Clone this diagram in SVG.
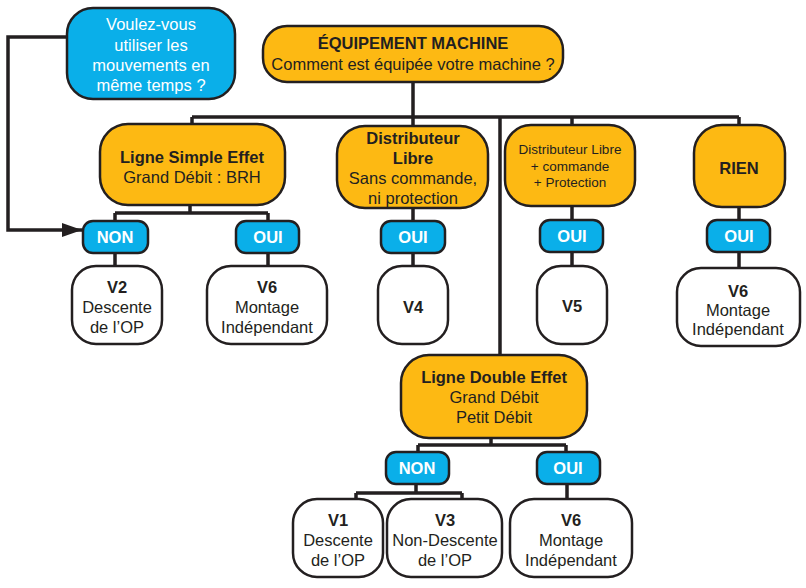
<svg xmlns="http://www.w3.org/2000/svg" width="806" height="588" viewBox="0 0 806 588">
<defs>
<style>
.or{fill:#fdb913;stroke:#231f20;stroke-width:2.5}
.bl{fill:#0aafe9;stroke:#231f20;stroke-width:2.5}
.wh{fill:#ffffff;stroke:#231f20;stroke-width:2.5}
.ln{fill:none;stroke:#231f20;stroke-width:3.5}
text{font-family:"Liberation Sans",Arial,sans-serif;font-size:16.5px;fill:#231f20;text-anchor:middle}
.b{font-weight:bold}
.w{fill:#ffffff;font-weight:bold}
.qw{fill:#ffffff}
.s{font-size:13.5px}
</style>
<marker id="arr" markerWidth="20" markerHeight="14" refX="20" refY="7" orient="auto" markerUnits="userSpaceOnUse" viewBox="0 0 20 14">
<path d="M0,0 L20,7 L0,14 z" fill="#231f20"/>
</marker>
</defs>
<rect width="806" height="588" fill="#ffffff"/>
<g id="connectors">
<path class="ln" d="M67,37 H8 V230 H82" marker-end="url(#arr)"/>
<path class="ln" d="M413,82 V117 M192,117 H739 M192,117 V125 M413,117 V126 M572,117 V125 M739,117 V125 M500,117 V355"/>
<path class="ln" d="M190,205 V213 M115,213 H268 M115,213 V221 M268,213 V221 M115,253 V266 M268,253 V266"/>
<path class="ln" d="M413,208 V221 M413,253 V266"/>
<path class="ln" d="M572,206 V220 M572,252 V266"/>
<path class="ln" d="M739,207 V220 M739,252 V268"/>
<path class="ln" d="M491,438 V445 M418,445 H566 M418,445 V452 M566,445 V452"/>
<path class="ln" d="M416,484 V493 M356,493 H462 M356,493 V499 M462,493 V499 M567,484 V499"/>
</g>
<g id="question">
<rect class="bl" x="67" y="8" width="168" height="91" rx="26"/>
<text class="qw" x="151" y="30">Voulez-vous</text>
<text class="qw" x="151" y="51">utiliser les</text>
<text class="qw" x="151" y="71">mouvements en</text>
<text class="qw" x="151" y="91">même temps ?</text>
</g>
<g id="equipement">
<rect class="or" x="263" y="26" width="300" height="56" rx="24"/>
<text class="b" x="413" y="49">ÉQUIPEMENT MACHINE</text>
<text x="413" y="70">Comment est équipée votre machine ?</text>
</g>
<g id="simple-effet">
<rect class="or" x="100" y="124" width="185" height="81" rx="28"/>
<text class="b" x="192" y="163">Ligne Simple Effet</text>
<text x="192" y="183">Grand Débit : BRH</text>
</g>
<g id="distributeur-libre">
<rect class="or" x="337" y="126" width="151" height="82" rx="28"/>
<text class="b" x="413" y="144">Distributeur</text>
<text class="b" x="413" y="164">Libre</text>
<text x="413" y="184">Sans commande,</text>
<text x="413" y="204">ni protection</text>
</g>
<g id="distributeur-commande">
<rect class="or" x="505" y="125" width="130" height="81" rx="26"/>
<text class="s" x="570" y="154">Distributeur Libre</text>
<text class="s" x="570" y="171">+ commande</text>
<text class="s" x="570" y="187">+ Protection</text>
</g>
<g id="rien">
<rect class="or" x="694" y="125" width="91" height="82" rx="28"/>
<text class="b" x="739" y="174">RIEN</text>
</g>
<g id="non-1">
<rect class="bl" x="83" y="221" width="65" height="32" rx="10"/>
<text class="w" x="115" y="243">NON</text>
</g>
<g id="oui-1">
<rect class="bl" x="236" y="221" width="63" height="32" rx="10"/>
<text class="w" x="268" y="243">OUI</text>
</g>
<g id="oui-2">
<rect class="bl" x="381" y="221" width="64" height="32" rx="10"/>
<text class="w" x="413" y="243">OUI</text>
</g>
<g id="oui-3">
<rect class="bl" x="540" y="220" width="63" height="32" rx="10"/>
<text class="w" x="572" y="242">OUI</text>
</g>
<g id="oui-4">
<rect class="bl" x="707" y="220" width="63" height="32" rx="10"/>
<text class="w" x="739" y="242">OUI</text>
</g>
<g id="v2">
<rect class="wh" x="72" y="266" width="90" height="78" rx="24"/>
<text class="b" x="117" y="293">V2</text>
<text x="117" y="313">Descente</text>
<text x="117" y="333">de l’OP</text>
</g>
<g id="v6-a">
<rect class="wh" x="207" y="266" width="120" height="78" rx="24"/>
<text class="b" x="267" y="293">V6</text>
<text x="267" y="313">Montage</text>
<text x="267" y="333">Indépendant</text>
</g>
<g id="v4">
<rect class="wh" x="378" y="266" width="70" height="78" rx="24"/>
<text class="b" x="413" y="313">V4</text>
</g>
<g id="v5">
<rect class="wh" x="537" y="266" width="70" height="78" rx="24"/>
<text class="b" x="572" y="312">V5</text>
</g>
<g id="v6-b">
<rect class="wh" x="677" y="268" width="123" height="78" rx="24"/>
<text class="b" x="738" y="297">V6</text>
<text x="738" y="316">Montage</text>
<text x="738" y="335">Indépendant</text>
</g>
<g id="double-effet">
<rect class="or" x="401" y="355" width="186" height="83" rx="28"/>
<text class="b" x="494" y="383">Ligne Double Effet</text>
<text x="494" y="403">Grand Débit</text>
<text x="494" y="423">Petit Débit</text>
</g>
<g id="non-2">
<rect class="bl" x="386" y="452" width="63" height="32" rx="10"/>
<text class="w" x="417" y="474">NON</text>
</g>
<g id="oui-5">
<rect class="bl" x="537" y="452" width="63" height="32" rx="10"/>
<text class="w" x="568" y="474">OUI</text>
</g>
<g id="v1">
<rect class="wh" x="293" y="499" width="90" height="78" rx="24"/>
<text class="b" x="338" y="526">V1</text>
<text x="338" y="546">Descente</text>
<text x="338" y="566">de l’OP</text>
</g>
<g id="v3">
<rect class="wh" x="387" y="499" width="115" height="78" rx="24"/>
<text class="b" x="445" y="526">V3</text>
<text x="445" y="546">Non-Descente</text>
<text x="445" y="566">de l’OP</text>
</g>
<g id="v6-c">
<rect class="wh" x="510" y="499" width="122" height="78" rx="24"/>
<text class="b" x="571" y="526">V6</text>
<text x="571" y="546">Montage</text>
<text x="571" y="566">Indépendant</text>
</g>
</svg>
